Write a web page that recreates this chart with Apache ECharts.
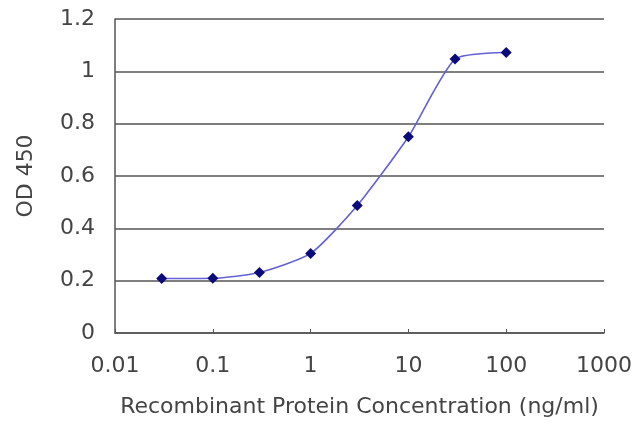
<!DOCTYPE html>
<html><head><meta charset="utf-8">
<script src="https://cdn.jsdelivr.net/npm/echarts@6/dist/echarts.min.js"></script>
<style>html,body{margin:0;padding:0;background:#fff}#c{width:640px;height:427px}</style>
</head><body><div id="c"></div>
<script>
const concentrations = [0.03, 0.1, 0.3, 1, 3, 10, 30, 100];
const od450 = [0.208, 0.209, 0.231, 0.304, 0.487, 0.750, 1.047, 1.072];
const xTitle = 'Recombinant Protein Concentration (ng/ml)';
const yTitle = 'OD 450';

const chart = echarts.init(document.getElementById('c'));
const font = 'DejaVu Sans, sans-serif';
const txt = '#444';
chart.setOption({
  animation: false,
  backgroundColor: '#fff',
  grid: {left: 115, right: 36, top: 19, bottom: 94, show: false},
  xAxis: {
    type: 'log', logBase: 10, min: 0.01, max: 1000,
    name: xTitle, nameLocation: 'middle', nameGap: 63,
    nameTextStyle: {fontFamily: font, fontSize: 22, color: txt},
    axisLine: {show: true, lineStyle: {color: '#555', width: 1.5}},
    axisTick: {show: true, inside: true, length: 4, lineStyle: {color: '#555'}},
    axisLabel: {fontFamily: font, fontSize: 22, color: txt, margin: 22,
      formatter: v => String(+v.toPrecision(3))},
    splitLine: {show: false},
    minorTick: {show: false}
  },
  yAxis: {
    type: 'value', min: 0, max: 1.2, interval: 0.2,
    name: yTitle, nameLocation: 'middle', nameGap: 78,
    nameTextStyle: {fontFamily: font, fontSize: 22, color: txt},
    axisLine: {show: true, lineStyle: {color: '#555', width: 1.5}},
    axisTick: {show: false},
    axisLabel: {fontFamily: font, fontSize: 22, color: txt, margin: 20,
      formatter: v => String(+v.toFixed(1))},
    splitLine: {show: true, lineStyle: {color: '#555', width: 1.5}}
  },
  series: [{
    type: 'line',
    data: concentrations.map((c, i) => [c, od450[i]]),
    smooth: 0.2,
    symbol: 'diamond', symbolSize: 11,
    itemStyle: {color: '#0a0a7a'},
    lineStyle: {color: '#6262d6', width: 1.6}
  }]
});
</script></body></html>
